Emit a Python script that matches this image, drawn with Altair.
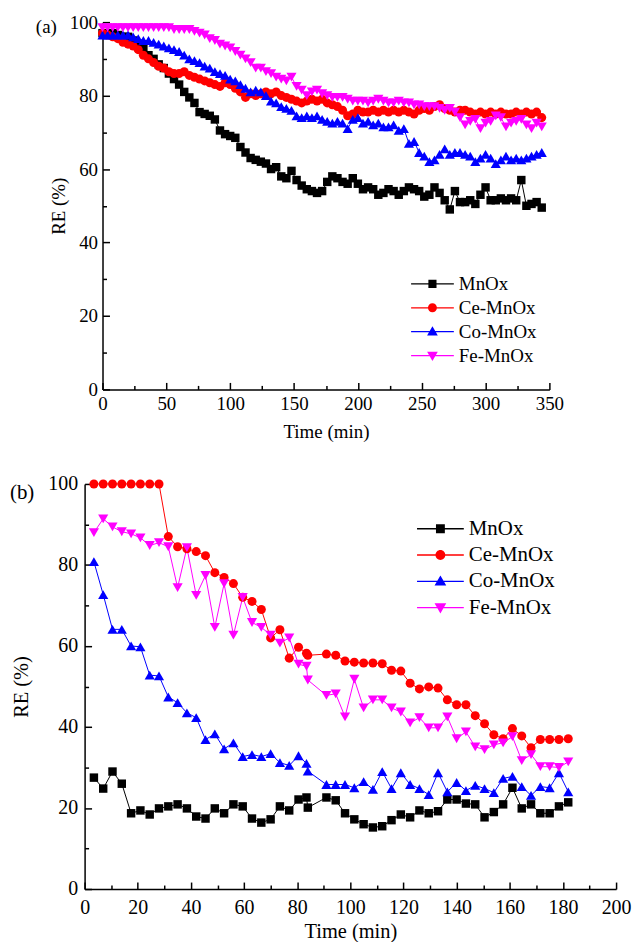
import altair as alt
import pandas as pd

FONT = "Liberation Serif, Times New Roman, DejaVu Serif, serif"
SERIES = ["MnOx", "Ce-MnOx", "Co-MnOx", "Fe-MnOx"]
COLORS = ["#000000", "#ff0000", "#0000ff", "#ff00ff"]
SHAPES = ["square", "circle", "triangle-up", "triangle-down"]
MARKER_SIZES = [72, 82, 104, 104]

# legend glyphs: a short line with the marker on it (unit square -1..1)
LINE = "M-1,-0.028H1V0.028H-1Z"
LEGEND_GLYPHS = [
    LINE + "M-0.19,-0.19H0.19V0.19H-0.19Z",
    LINE + "M0.21,0A0.21,0.21 0 1 1 -0.21,0A0.21,0.21 0 1 1 0.21,0Z",
    LINE + "M0,-0.25L0.25,0.18L-0.25,0.18Z",
    LINE + "M-0.25,-0.18L0.25,-0.18L0,0.25Z",
]

# ---------------- panel (a): 0-344 min, sampled every 4 min ----------------
TIME_A = list(range(0, 345, 4))
MNOX_A = [
    97, 97, 97, 96.5, 96, 96, 95, 94, 93, 91,
    90, 88.5, 87.5, 86, 84.5, 83, 81, 79.5, 78, 75.5,
    75, 74.5, 73.5, 70.5, 69.5, 69, 68.5, 66, 64.5, 63,
    62.5, 62, 61.5, 60, 60.5, 58, 57.5, 59.5, 57, 55.5,
    54.5, 54, 53.5, 54, 56.5, 58, 57.5, 56.5, 56, 57.5,
    56, 54.5, 55, 54.5, 53, 53.5, 54.5, 54, 53, 54,
    55, 54.5, 54, 52.5, 53, 55, 53.5, 51.5, 49, 54,
    51, 51, 51.5, 50.5, 53, 55, 51.5, 51.5, 52, 51.5,
    52, 51.5, 57, 50, 50.5, 51, 49.5,
]
CE_A = [
    97, 96.5, 96, 95.5, 94.5, 94, 93.5, 92.5, 91, 90,
    89, 88, 87.5, 86.5, 86, 86, 86.5, 85.5, 85, 84.5,
    84, 83.5, 83, 82.5, 83.5, 83, 82, 81, 79.5, 80.5,
    80, 80.5, 81, 80.5, 81, 80, 79.5, 79, 78.5, 78,
    78.5, 79, 78.5, 79, 78, 77.5, 77, 76, 74.5, 75,
    76, 75.5, 75.5, 76, 75.5, 76, 75.5, 76, 75.5, 76,
    75.5, 75, 76, 76.5, 76, 77, 77.5, 76.5, 76, 75.5,
    76, 76, 75.5, 75, 75.5, 75, 75.5, 75, 75.5, 75,
    75, 75.5, 75, 75.5, 75, 75.5, 74,
]
CO_A = [
    96.5, 96.5, 96.5, 96.5, 96.5, 96.5, 96, 95.5, 95, 95,
    94.5, 94, 93.5, 93, 92.5, 92, 91, 90, 89.5, 89,
    88, 87.5, 86.5, 86, 85.5, 84.5, 84, 83, 82, 81,
    81.5, 81, 80, 78.5, 78, 77, 76.5, 76, 74.5, 74,
    74.5, 74, 74.5, 73.5, 73, 72.5, 73, 72.5, 71, 73.5,
    74, 72.5, 73, 72, 72.5, 71.5, 71.5, 72, 70.5, 71,
    67, 67.5, 64.5, 63.5, 62, 62.5, 64, 65.5, 64, 64.5,
    64.5, 64, 63.5, 62, 63, 64, 63, 61.5, 62.5, 63.5,
    62.5, 63, 62.5, 63, 63.5, 64, 64.5,
]
FE_A = [
    98.5, 98.5, 98.5, 98.5, 98.5, 98.5, 98.5, 98.5, 98.5, 98.5,
    98.5, 98.5, 98.5, 98.5, 98, 98, 98, 98, 97.5, 97,
    96.5, 95.5, 95, 94, 93.5, 93, 92, 91, 90, 89,
    87.5, 87.5, 86.5, 86, 85, 84.5, 84, 85, 82.5, 81.5,
    80, 81, 81.5, 80.5, 80, 79.5, 79.5, 79.5, 79, 78.5,
    78.5, 78.5, 78, 78.5, 79, 78.5, 78, 78, 78.5, 78,
    78, 77.5, 77.5, 77, 77, 77, 76.5, 76, 76.5, 75.5,
    74, 72, 73, 73.5, 71, 72.5, 73, 74.5, 74, 71.5,
    72.5, 73, 73.5, 72, 71, 72.5, 71.5,
]

# ---------------- panel (b): 0-182 min ----------------
TIME_B = [
    3.5, 7, 10.5, 14, 17.5, 21, 24.5, 28,
    31.5, 35, 38.5, 42, 45.5, 49, 52.5, 56,
    59.5, 63, 66.5, 70, 73.5, 77, 80.5, 83.5, 84,
    91, 94.5, 98, 101.5, 105, 108.5, 112,
    115.5, 119, 122.5, 126, 129.5, 133, 136.5, 140,
    143.5, 147, 150.5, 154, 157.5, 161, 164.5, 168,
    171.5, 175, 178.5, 182,
]
MNOX_B = [
    27.5, 24.8, 29, 26, 18.7, 19.4, 18.4, 19.9,
    20.4, 20.9, 19.9, 17.9, 17.4, 19.9, 18.7, 20.9,
    20.4, 17.4, 16.4, 17.2, 20.4, 19.4, 22.1, 22.6, 20.1,
    22.6, 21.9, 18.7, 17.2, 16, 15.2, 15.5,
    17, 18.4, 17.7, 19.4, 18.7, 19.2, 22.1, 22.1,
    21.1, 20.9, 17.7, 19, 20.9, 25, 19.9, 20.9,
    18.7, 18.7, 20.4, 21.4,
]
CE_B = [
    100, 100, 100, 100, 100, 100, 100, 100,
    87, 84.5, 84, 83.3, 82.3, 78.1, 76.9, 75.4,
    72, 71, 69, 62, 64, 57, 59.7, 58.2, 57.7,
    58, 57.7, 56.3, 56, 55.8, 55.8, 55.6,
    54, 53.8, 50.8, 49.4, 49.9, 49.6, 46.7, 45.5,
    45.5, 42.8, 40.8, 38.1, 37.1, 39.6, 37.8, 34.9,
    36.9, 36.9, 36.9, 37.1,
]
CO_B = [
    80.8, 72.7, 64.1, 64.1, 60, 59.8, 52.8, 52.6,
    47.4, 46, 43.5, 42.3, 36.9, 38.3, 34.6, 36.1,
    32.7, 33.2, 32.7, 33.4, 31.2, 30.5, 32.9, 31, 29.1,
    25.8, 25.8, 25.8, 25, 26.5, 24.6, 29,
    24.8, 28.7, 25.8, 24.8, 23.3, 28.7, 24, 26.3,
    24.3, 25.6, 24.8, 23.8, 27.3, 27.8, 25.3, 23.1,
    25.3, 25, 28.7, 24,
]
FE_B = [
    88, 91.4, 89.4, 88.2, 87.7, 86.7, 84.8, 85.5,
    84.5, 74.4, 84.3, 72.5, 77.4, 64.6, 75.4, 62.7,
    72, 65.8, 64.6, 62.7, 60.7, 62, 55.5, 55, 51.6,
    47.8, 48.2, 42.5, 51.8, 44.7, 46.7, 46.7,
    44.7, 43.7, 41, 42.3, 39.8, 39.8, 42.5, 37.1,
    38.8, 35.1, 34.4, 35.6, 36.1, 37.6, 31.7, 33.2,
    30.2, 30.2, 30, 31.4,
]


def long_table(times, columns):
    rows = []
    for name, vals in zip(SERIES, columns):
        for t, v in zip(times, vals):
            rows.append({"t": t, "re": v, "series": name})
    return pd.DataFrame(rows)


def axis(values, title, orient, tick_len, labels, label_fs, title_fs,
         label_pad, title_pad, offset):
    kw = dict(
        values=values, orient=orient, grid=False, offset=offset,
        ticks=True, tickColor="black", tickWidth=1.5,
        tickSize={"expr": str(-tick_len)},
        labels=labels, domain=labels, domainColor="black", domainWidth=1.5,
    )
    if labels:
        kw.update(
            title=title, labelFont=FONT, labelFontSize=label_fs,
            labelColor="black", labelPadding=label_pad, labelFlush=False,
            labelOverlap=False, titleFont=FONT, titleFontSize=title_fs,
            titleFontWeight="normal", titleColor="black", titlePadding=title_pad,
        )
    else:
        kw.update(title=None)
    return alt.Axis(**kw)


def panel(df, x_max, x_major, x_minor, width, height, x_shift, label_fs,
          title_fs, legend_fs, legend_x, legend_y, glyph_size, clip_h, row_pad,
          tag, tag_fs, tag_dx, tag_offset, y_label_pad, y_title_pad, x_label_pad,
          x_title_pad):
    x_scale = alt.Scale(domain=[0, x_max], range=[x_shift, width], nice=False, zero=False)
    y_scale = alt.Scale(domain=[0, 100], nice=False, zero=False)
    y_major = [0, 20, 40, 60, 80, 100]
    y_minor = [10, 30, 50, 70, 90]

    ax_x = axis(x_major, "Time (min)", "bottom", 7, True, label_fs, title_fs,
                x_label_pad, x_title_pad, 0)
    ax_y = axis(y_major, "RE (%)", "left", 7, True, label_fs, title_fs,
                y_label_pad, y_title_pad, -x_shift)
    X = alt.X("t:Q", scale=x_scale, axis=ax_x)
    Y = alt.Y("re:Q", scale=y_scale, axis=ax_y)

    base = alt.Chart(df)

    # one thin connecting line per series, then the markers on top
    layers = []
    for name, col in zip(SERIES, COLORS):
        layers.append(
            base.transform_filter(alt.datum.series == name)
            .mark_line(strokeWidth=1, opacity=1, color=col)
            .encode(x=X, y=Y)
        )
    for name, col, shp, sz in zip(SERIES, COLORS, SHAPES, MARKER_SIZES):
        layers.append(
            base.transform_filter(alt.datum.series == name)
            .mark_point(shape=shp, filled=True, size=sz, color=col, opacity=1, strokeWidth=0)
            .encode(x=X, y=Y)
        )

    leg = alt.Legend(
        title=None, orient="none", legendX=legend_x, legendY=legend_y,
        direction="vertical", labelFont=FONT, labelFontSize=legend_fs,
        labelColor="black", labelOffset=5, symbolSize=glyph_size,
        symbolStrokeWidth=0, symbolOpacity=1, clipHeight=clip_h,
        rowPadding=row_pad, padding=0, labelLimit=0,
    )
    legend_layer = base.transform_filter("false").mark_point(filled=True, opacity=1).encode(
        color=alt.Color("series:N", scale=alt.Scale(domain=SERIES, range=COLORS), legend=leg),
        shape=alt.Shape("series:N", scale=alt.Scale(domain=SERIES, range=LEGEND_GLYPHS), legend=leg),
    )
    layers.append(legend_layer)
    data_group = alt.layer(*layers)

    # short minor ticks between the labelled ones
    minor = base.transform_filter("false").mark_point().encode(
        x=alt.X("t:Q", scale=x_scale,
                axis=axis(x_minor, None, "bottom", 4, False, 0, 0, 0, 0, 0)),
        y=alt.Y("re:Q", scale=y_scale,
                axis=axis(y_minor, None, "left", 4, False, 0, 0, 0, 0, -x_shift)),
    )

    return (
        alt.layer(data_group, minor)
        .resolve_scale(x="independent", y="independent")
        .resolve_axis(x="independent", y="independent")
        .properties(
            width=width, height=height,
            title=alt.Title(tag, anchor="start", frame="group", orient="top",
                            offset=tag_offset, dx=tag_dx, font=FONT,
                            fontSize=tag_fs, fontWeight="normal", color="black",
                            baseline="middle"),
        )
    )


df_a = long_table(TIME_A, [MNOX_A, CE_A, CO_A, FE_A])
df_b = long_table(TIME_B, [MNOX_B, CE_B, CO_B, FE_B])

top = panel(
    df_a, 350, list(range(0, 351, 50)), list(range(25, 350, 50)),
    width=467, height=369, x_shift=18, label_fs=19, title_fs=19, legend_fs=19,
    legend_x=328, legend_y=252, glyph_size=1849, clip_h=22, row_pad=2.0,
    tag="(a)", tag_fs=19, tag_dx=-49, tag_offset=-33,
    y_label_pad=12, y_title_pad=1, x_label_pad=12, x_title_pad=9,
)
bottom = panel(
    df_b, 200, list(range(0, 201, 20)), list(range(10, 200, 20)),
    width=534, height=407, x_shift=0, label_fs=20, title_fs=20.5, legend_fs=21,
    legend_x=334, legend_y=33, glyph_size=2209, clip_h=24, row_pad=2.4,
    tag="(b)", tag_fs=21, tag_dx=-75, tag_offset=-40,
    y_label_pad=14, y_title_pad=16, x_label_pad=16, x_title_pad=4,
)

chart = (
    alt.vconcat(top, bottom, spacing=31)
    .resolve_scale(color="independent", shape="independent")
    .resolve_legend(color="independent", shape="independent")
    .properties(padding={"left": 9, "top": 10, "right": 0, "bottom": 0}, background="white")
    .configure_view(stroke="transparent")
)

chart.save("out.html", embed_options={"renderer": "svg", "actions": False})
